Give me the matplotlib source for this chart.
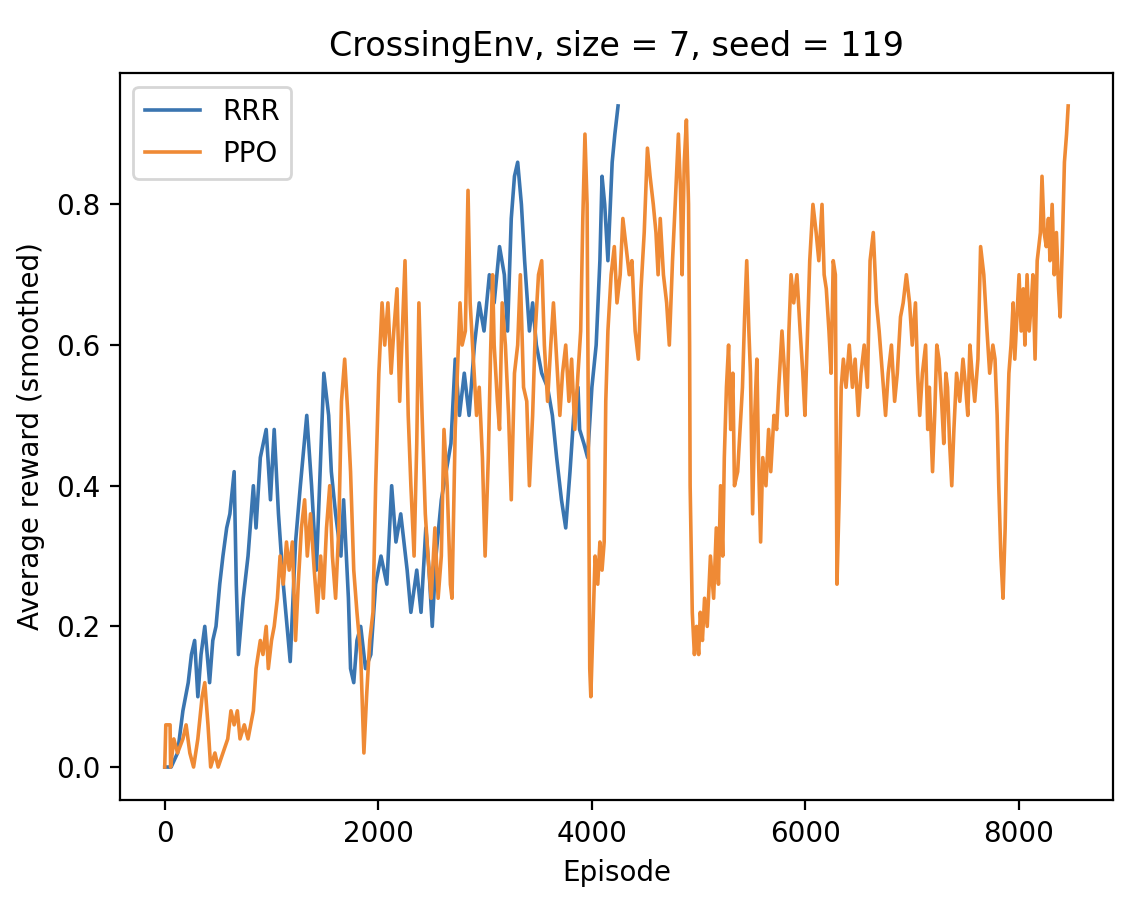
import matplotlib
matplotlib.use("Agg")
import matplotlib.pyplot as plt

rrr_episodes = [0, 60, 120, 170, 220, 250, 280, 310, 340, 375, 420, 450, 480, 515, 545, 580, 610, 650, 670, 690,
                735, 780, 830, 855, 895, 950, 990, 1025, 1065, 1110, 1175, 1225, 1270, 1330, 1375, 1420, 1490,
                1535, 1560, 1600, 1650, 1675, 1720, 1740, 1770, 1800, 1835, 1880, 1930, 1975, 2025, 2080, 2125,
                2165, 2210, 2270, 2305, 2360, 2400, 2445, 2475, 2505, 2540, 2590, 2635, 2680, 2720, 2760, 2805,
                2850, 2900, 2945, 2990, 3040, 3085, 3135, 3180, 3210, 3245, 3275, 3305, 3340, 3370, 3415, 3445,
                3480, 3530, 3585, 3630, 3670, 3715, 3755, 3795, 3830, 3870, 3885, 3925, 3960, 4000, 4040, 4075,
                4095, 4120, 4150, 4190, 4215, 4245]
rrr_reward = [0.0, 0.0, 0.02, 0.08, 0.12, 0.16, 0.18, 0.10, 0.16, 0.20, 0.12, 0.18, 0.20, 0.26, 0.30, 0.34, 0.36,
              0.42, 0.26, 0.16, 0.24, 0.30, 0.40, 0.34, 0.44, 0.48, 0.38, 0.48, 0.36, 0.26, 0.15, 0.32, 0.40,
              0.50, 0.40, 0.28, 0.56, 0.50, 0.42, 0.36, 0.30, 0.38, 0.24, 0.14, 0.12, 0.18, 0.20, 0.14, 0.16,
              0.26, 0.30, 0.26, 0.40, 0.32, 0.36, 0.28, 0.22, 0.28, 0.22, 0.34, 0.28, 0.20, 0.30, 0.38, 0.42,
              0.46, 0.58, 0.50, 0.56, 0.50, 0.60, 0.66, 0.62, 0.70, 0.66, 0.74, 0.70, 0.62, 0.78, 0.84, 0.86,
              0.80, 0.72, 0.62, 0.66, 0.60, 0.56, 0.54, 0.50, 0.44, 0.38, 0.34, 0.42, 0.50, 0.54, 0.48, 0.46,
              0.44, 0.54, 0.60, 0.72, 0.84, 0.80, 0.72, 0.86, 0.90, 0.94]

ppo_episodes = [0, 10, 50, 55, 85, 120, 170, 200, 235, 270, 310, 350, 375, 405, 430, 470, 500, 545, 590, 620,
                650, 680, 705, 745, 780, 830, 855, 895, 920, 950, 970, 1000, 1025, 1055, 1080, 1110, 1140, 1165,
                1195, 1225, 1250, 1280, 1310, 1335, 1365, 1400, 1430, 1460, 1485, 1515, 1545, 1570, 1600, 1630,
                1655, 1685, 1715, 1740, 1770, 1800, 1835, 1865, 1890, 1920, 1950, 1975, 2005, 2035, 2060, 2090,
                2120, 2145, 2175, 2200, 2220, 2250, 2280, 2305, 2335, 2360, 2380, 2410, 2440, 2465, 2495, 2530,
                2560, 2590, 2615, 2645, 2675, 2690, 2720, 2750, 2765, 2785, 2815, 2840, 2860, 2890, 2920, 2945,
                2975, 3000, 3030, 3050, 3070, 3085, 3115, 3135, 3160, 3190, 3220, 3245, 3275, 3305, 3330, 3360,
                3390, 3415, 3445, 3470, 3500, 3530, 3555, 3585, 3615, 3640, 3670, 3700, 3725, 3755, 3785, 3810,
                3840, 3870, 3895, 3915, 3935, 3955, 3970, 3980, 3990, 4010, 4030, 4055, 4075, 4095, 4115, 4130,
                4150, 4180, 4210, 4235, 4265, 4290, 4320, 4350, 4375, 4405, 4435, 4460, 4490, 4520, 4545, 4575,
                4600, 4620, 4640, 4670, 4700, 4725, 4755, 4780, 4810, 4830, 4845, 4865, 4885, 4905, 4915, 4920,
                4940, 4960, 4980, 5000, 5015, 5035, 5055, 5080, 5110, 5140, 5165, 5185, 5205, 5225, 5240, 5260,
                5280, 5300, 5320, 5335, 5365, 5395, 5410, 5430, 5450, 5470, 5485, 5505, 5525, 5545, 5560, 5580,
                5600, 5630, 5655, 5675, 5705, 5730, 5750, 5780, 5805, 5825, 5845, 5865, 5890, 5920, 5950, 5975,
                5995, 6015, 6040, 6070, 6100, 6125, 6155, 6175, 6195, 6220, 6240, 6260, 6280, 6295, 6315, 6335,
                6355, 6380, 6410, 6440, 6465, 6495, 6520, 6550, 6580, 6605, 6635, 6665, 6690, 6720, 6750, 6775,
                6805, 6835, 6860, 6890, 6915, 6945, 6975, 7000, 7030, 7050, 7070, 7095, 7125, 7145, 7160, 7190,
                7210, 7230, 7250, 7275, 7295, 7315, 7330, 7350, 7370, 7390, 7415, 7445, 7475, 7500, 7520, 7540,
                7560, 7585, 7615, 7640, 7670, 7700, 7725, 7755, 7775, 7795, 7810, 7830, 7850, 7870, 7885, 7905,
                7925, 7945, 7960, 7980, 8000, 8020, 8040, 8055, 8075, 8095, 8115, 8130, 8150, 8170, 8200, 8215,
                8235, 8255, 8275, 8290, 8310, 8330, 8350, 8370, 8385, 8405, 8425, 8445, 8460]
ppo_reward = [0.0, 0.06, 0.06, 0.0, 0.04, 0.02, 0.04, 0.06, 0.02, 0.0, 0.04, 0.10, 0.12, 0.06, 0.0, 0.02, 0.0,
              0.02, 0.04, 0.08, 0.06, 0.08, 0.04, 0.06, 0.04, 0.08, 0.14, 0.18, 0.16, 0.20, 0.14, 0.18, 0.20,
              0.24, 0.30, 0.26, 0.32, 0.28, 0.32, 0.18, 0.26, 0.34, 0.38, 0.30, 0.36, 0.28, 0.22, 0.30, 0.24,
              0.34, 0.40, 0.30, 0.24, 0.34, 0.52, 0.58, 0.50, 0.42, 0.28, 0.22, 0.16, 0.02, 0.10, 0.18, 0.22,
              0.40, 0.56, 0.66, 0.60, 0.66, 0.56, 0.62, 0.68, 0.52, 0.60, 0.72, 0.50, 0.40, 0.30, 0.46, 0.66,
              0.50, 0.36, 0.30, 0.24, 0.34, 0.24, 0.30, 0.48, 0.40, 0.26, 0.24, 0.48, 0.60, 0.66, 0.60, 0.62,
              0.82, 0.66, 0.58, 0.50, 0.54, 0.44, 0.30, 0.44, 0.58, 0.70, 0.60, 0.52, 0.48, 0.66, 0.60, 0.50,
              0.38, 0.56, 0.60, 0.70, 0.54, 0.52, 0.40, 0.50, 0.62, 0.70, 0.72, 0.60, 0.52, 0.60, 0.66, 0.58,
              0.50, 0.56, 0.60, 0.52, 0.58, 0.48, 0.56, 0.62, 0.78, 0.90, 0.80, 0.40, 0.14, 0.10, 0.20, 0.30,
              0.26, 0.32, 0.28, 0.32, 0.52, 0.62, 0.70, 0.74, 0.66, 0.70, 0.78, 0.74, 0.70, 0.72, 0.62, 0.58,
              0.68, 0.76, 0.88, 0.84, 0.80, 0.76, 0.70, 0.78, 0.70, 0.66, 0.60, 0.72, 0.80, 0.90, 0.82, 0.70,
              0.86, 0.92, 0.80, 0.60, 0.40, 0.22, 0.16, 0.20, 0.16, 0.22, 0.18, 0.24, 0.20, 0.30, 0.24, 0.34,
              0.26, 0.40, 0.30, 0.44, 0.54, 0.60, 0.48, 0.56, 0.40, 0.42, 0.50, 0.54, 0.64, 0.72, 0.62, 0.56,
              0.36, 0.50, 0.58, 0.44, 0.32, 0.44, 0.40, 0.48, 0.42, 0.50, 0.48, 0.54, 0.62, 0.56, 0.50, 0.62,
              0.70, 0.66, 0.70, 0.62, 0.56, 0.50, 0.60, 0.72, 0.80, 0.76, 0.72, 0.80, 0.70, 0.68, 0.62, 0.56,
              0.72, 0.70, 0.26, 0.38, 0.54, 0.58, 0.54, 0.60, 0.54, 0.58, 0.50, 0.56, 0.60, 0.54, 0.72, 0.76,
              0.66, 0.62, 0.56, 0.50, 0.56, 0.60, 0.52, 0.56, 0.64, 0.66, 0.70, 0.66, 0.60, 0.66, 0.56, 0.50,
              0.56, 0.60, 0.48, 0.54, 0.42, 0.50, 0.60, 0.58, 0.52, 0.46, 0.56, 0.54, 0.46, 0.40, 0.48, 0.56,
              0.52, 0.58, 0.54, 0.50, 0.60, 0.56, 0.52, 0.58, 0.74, 0.70, 0.62, 0.56, 0.60, 0.58, 0.50, 0.40,
              0.30, 0.24, 0.34, 0.46, 0.56, 0.60, 0.66, 0.58, 0.64, 0.70, 0.62, 0.68, 0.60, 0.70, 0.62, 0.66,
              0.70, 0.58, 0.72, 0.76, 0.84, 0.76, 0.74, 0.78, 0.72, 0.80, 0.70, 0.76, 0.68, 0.64, 0.74, 0.86,
              0.90, 0.94]

fig = plt.figure(figsize=(5.64, 4.5), dpi=200)
ax = fig.add_axes([0.106, 0.111, 0.881, 0.808])
ax.plot(rrr_episodes, rrr_reward, color="#3a75b0", linewidth=1.3, label="RRR")
ax.plot(ppo_episodes, ppo_reward, color="#ef8a35", linewidth=1.3, label="PPO")
ax.set_title("CrossingEnv, size = 7, seed = 119")
ax.set_xlabel("Episode")
ax.set_ylabel("Average reward (smoothed)")
ax.legend(loc="upper left")
fig.savefig("out.png", dpi=200)
